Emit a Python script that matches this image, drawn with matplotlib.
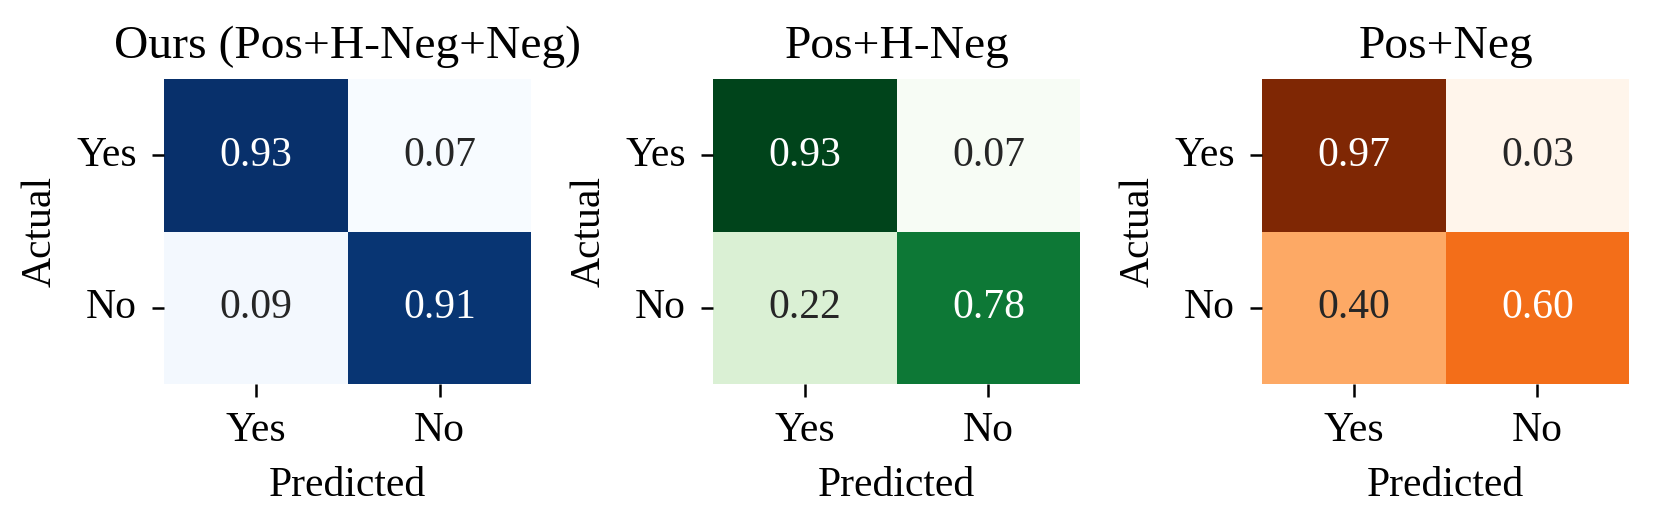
import numpy as np
import matplotlib
matplotlib.use("Agg")
import matplotlib.pyplot as plt
import seaborn as sns

plt.rcParams['font.family'] = ['Liberation Serif', 'DejaVu Serif']
plt.rcParams['font.size'] = 10

labels = ["Yes", "No"]
titles = ["Ours (Pos+H-Neg+Neg)", "Pos+H-Neg", "Pos+Neg"]
cmaps = ["Blues", "Greens", "Oranges"]

ours = [[0.93, 0.07], [0.09, 0.91]]
pos_hneg = [[0.93, 0.07], [0.22, 0.78]]
pos_neg = [[0.97, 0.03], [0.40, 0.60]]
mats = [ours, pos_hneg, pos_neg]

fig, axes = plt.subplots(1, 3, figsize=(5.53, 1.757), dpi=300)
for ax, m, t, cm in zip(axes, mats, titles, cmaps):
    sns.heatmap(np.array(m), annot=True, fmt=".2f", cmap=cm, cbar=False,
                xticklabels=labels, yticklabels=labels, ax=ax,
                annot_kws={"fontsize": 10})
    ax.set_title(t, fontsize=11.4, pad=5)
    ax.set_xlabel("Predicted", fontsize=10)
    ax.set_ylabel("Actual", fontsize=10)
    ax.tick_params(axis='y', rotation=0, length=3, width=0.6)
    ax.tick_params(axis='x', length=3, width=0.6)

fig.subplots_adjust(left=0.099, right=0.982, bottom=0.271, top=0.85, wspace=0.495)
fig.savefig("out.png", dpi=300)
